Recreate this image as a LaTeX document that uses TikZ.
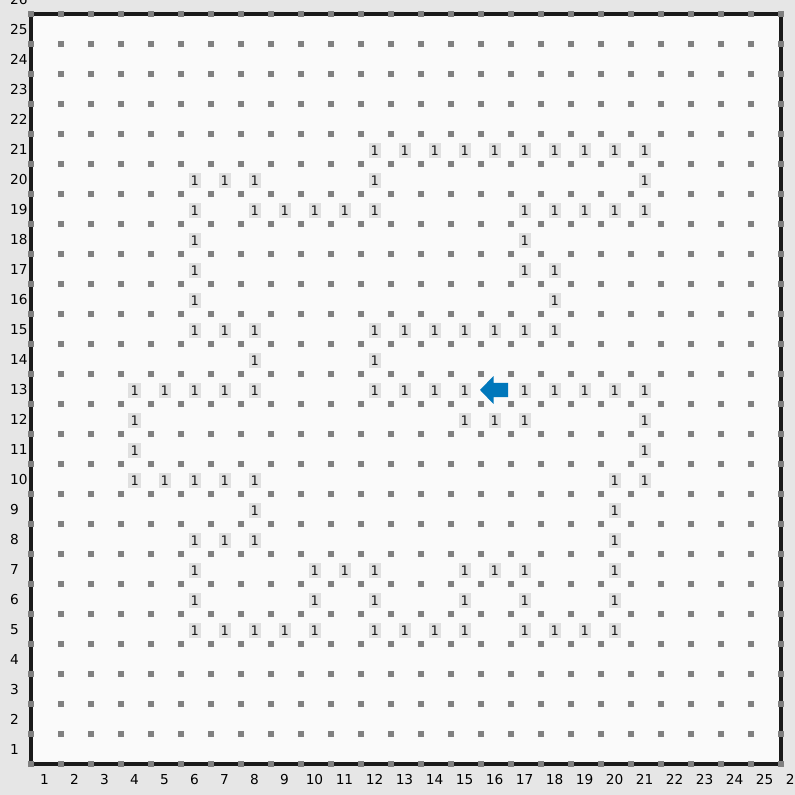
\documentclass[tikz,border=0pt]{standalone}
\usepackage{fontspec}
\setmainfont{DejaVu Sans}
\newfontfamily\tilefont{DejaVu Sans Mono}
\usetikzlibrary{positioning}
\usepackage{xcolor}
\definecolor{GridBack}{RGB}{230,230,230}
\definecolor{GridPaper}{RGB}{250,250,250}
\definecolor{GridDot}{RGB}{128,128,128}
\definecolor{GridFrame}{RGB}{26,26,26}
\definecolor{TileFill}{RGB}{224,224,224}
\definecolor{ArrowBlue}{RGB}{0,119,187}

\begin{document}
\begin{tikzpicture}[
x=1cm,y=1cm,
tile/.style={rectangle,fill=TileFill,minimum width=4mm,minimum height=4.7mm,inner sep=0pt,
font=\tilefont\fontsize{12.5}{12.5}\selectfont,text=GridFrame},
axislabel/.style={font=\fontsize{13}{15}\selectfont,text=black,inner sep=0pt}
]
% page and board
\useasboundingbox[fill=GridBack] (-1.0333,-1.0333) rectangle (25.4667,25.4667);
\fill[GridPaper] (0,0) rectangle (25,25);
\draw[GridFrame,line width=0.133cm] (0,0) rectangle (25,25);
\foreach \i in {0,...,25}
  \foreach \j in {0,...,25}
    \fill[GridDot] (\i-0.1,\j-0.1) rectangle ++(0.2,0.2);
% axis numbers
\foreach \n in {1,...,26} {
  \node[axislabel] (xl-\n) at (\n-0.55,-0.53) {\n};
  \node[axislabel,anchor=west] (yl-\n) at (-0.7,\n-0.53) {\n};
}
% tiles
\foreach \r/\cols in {21/{12,13,14,15,16,17,18,19,20,21},
  20/{6,7,8,12,21},
  19/{6,8,9,10,11,12,17,18,19,20,21},
  18/{6,17}, 17/{6,17,18}, 16/{6,18},
  15/{6,7,8,12,13,14,15,16,17,18},
  14/{8,12},
  13/{4,5,6,7,8,12,13,14,15,17,18,19,20,21},
  12/{4,15,16,17,21}, 11/{4,21},
  10/{4,5,6,7,8,20,21}, 9/{8,20}, 8/{6,7,8,20},
  7/{6,10,11,12,15,16,17,20},
  6/{6,10,12,15,17,20},
  5/{6,7,8,9,10,12,13,14,15,17,18,19,20}}
  \foreach \c in \cols
    \node[tile] (t-\c-\r) at (\c-0.55,\r-0.55) {1};
% agent
\coordinate (agent) at (15.5,12.5);
\fill[ArrowBlue,shift={(agent)}] (-0.533,-0.033) -- (-0.083,0.433) -- (-0.083,0.2)
  -- (0.4,0.2) -- (0.4,-0.267) -- (-0.083,-0.267) -- (-0.083,-0.5) -- cycle;
\end{tikzpicture}
\end{document}
